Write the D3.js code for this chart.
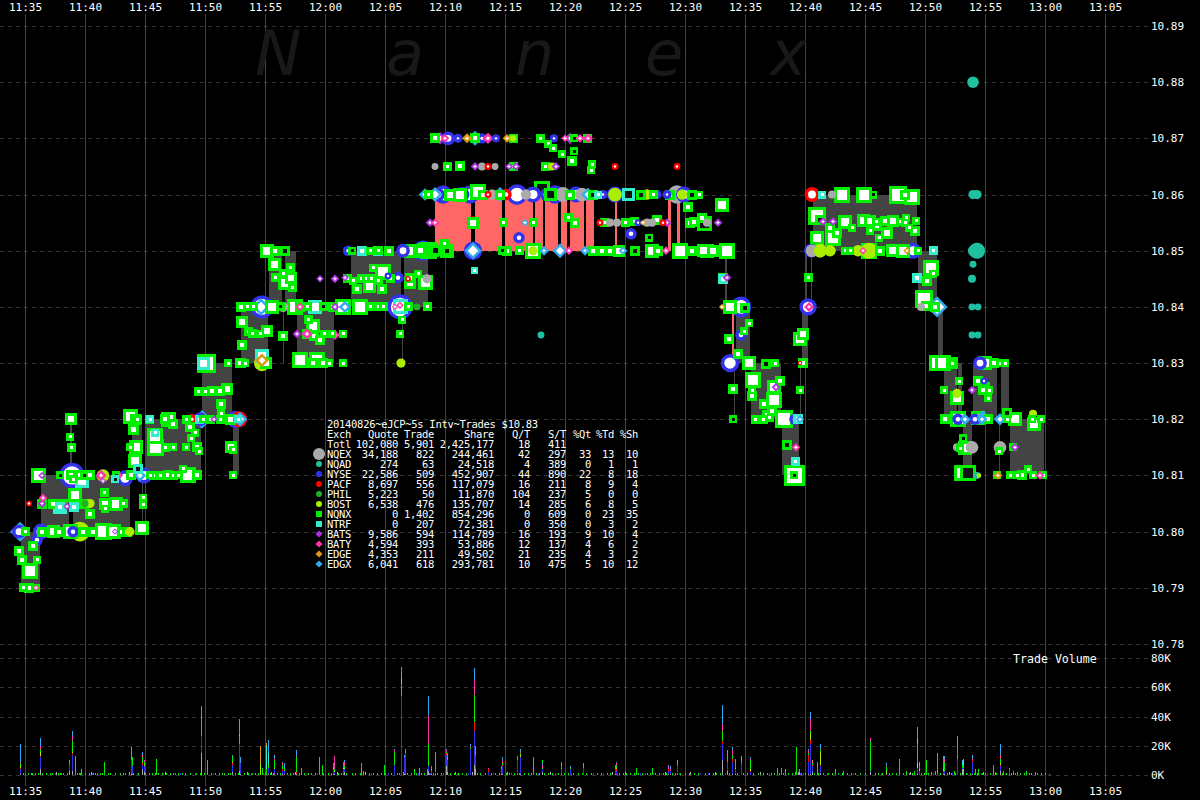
<!DOCTYPE html>
<html><head><meta charset="utf-8">
<script src="https://cdn.jsdelivr.net/npm/d3@7"></script>
<style>
html,body{margin:0;padding:0;background:#000;overflow:hidden}
svg{display:block;background:#000}
text{font-family:"DejaVu Sans Mono",monospace;fill:#fff}
.axis path.domain{display:none}
.axis line{display:none}
</style></head><body>
<svg id="c" width="1200" height="800"></svg>
<script>
// ---------- axes ----------
const timeTickBins=[0,60,120,180,240,300,360,420,480,540,600,660,720,780,840,900,960,1020,1080];
const timeTickLabels=["11:35","11:40","11:45","11:50","11:55","12:00","12:05","12:10","12:15","12:20","12:25","12:30","12:35","12:40","12:45","12:50","12:55","13:00","13:05"];
const priceTicks=[10.78,10.79,10.80,10.81,10.82,10.83,10.84,10.85,10.86,10.87,10.88,10.89];
const volumeTicks=[0,20,40,60,80];
const watermarkLetters=["N","a","n","e","x"];
const watermarkBins=[230,361,490,620,745];

// ---------- quote bands [startBin,endBin,low,high] ----------
const greyBands=[[-4,15,10.79,10.80],[16,44,10.80,10.81],[48,105,10.80,10.81],[45,47,10.81,10.82],[107,117,10.815,10.82],[117,118,10.80,10.81],[120,176,10.81,10.82],[177,207,10.82,10.83],[208,214,10.81,10.82],
[216,243,10.83,10.84],[258,259,10.83,10.84],[244,257,10.84,10.85],[260,271,10.84,10.85],[272,309,10.83,10.84],[377,378,10.83,10.84],[326,376,10.84,10.85],[379,403,10.84,10.85],
[700,702,10.84,10.85],[711,725,10.83,10.84],[709,710,10.82,10.83],[726,756,10.82,10.83],[757,774,10.81,10.82],[777,783,10.83,10.84],[775,776,10.82,10.83],
[788,892,10.85,10.86],[893,912,10.84,10.85],[913,918,10.83,10.84],[919,932,10.82,10.83],[933,937,10.82,10.83],[938,947,10.81,10.82],[948,972,10.82,10.83],[974,975,10.81,10.82],[976,984,10.82,10.83],[985,1019,10.81,10.82]];
const thinGreyBands=[[781,782,10.84,10.85],[786,787,10.84,10.85]];
const redBands=[[410,446,10.85,10.86],[450,477,10.85,10.86],[480,508,10.85,10.86],[510,518,10.85,10.86],[520,533,10.85,10.86],[536,542,10.85,10.86],[545,559,10.85,10.86],[561,569,10.85,10.86],[590,592,10.85,10.86],[643,646,10.85,10.86],[652,655,10.85,10.86],[707,709,10.83,10.84]];

// ---------- trades per exchange [bin,price,size,hollow] ----------
const nqex=[[410,10.865,6],[457,10.865,7],[470,10.865,6],[467,10.86,9],[501,10.86,9],[538,10.86,13],[557,10.86,12],[585,10.855,7],[592,10.855,7],[622,10.855,7],[627,10.855,7],[652,10.86,16],[258,10.84,9],[807,10.86,7],[787,10.85,11],[896,10.84,7],[932,10.815,7],[947,10.815,11],[975,10.815,11],[402,10.845,8],[682,10.855,7]];
const nqad=[[948,10.88,10],[948,10.86,8],[952,10.86,8],[948,10.85,9],[952,10.85,14],[948,10.8476,6],[947,10.845,7],[947,10.84,6],[953,10.84,6],[947,10.835,6],[953,10.835,6],[516,10.835,6],[952,10.81,6]];
const nyse=[[47,10.81,22],[100,10.8095,14],[16,10.80,14],[12,10.7985,10],[-6,10.80,12],[48,10.8,10],[119,10.81,14],[210,10.82,15],[175,10.82,12],[237,10.84,20],[375,10.84,22],[323,10.85,9],[378,10.85,12],[398,10.85,18],[413,10.86,12],[418,10.86,16],[445,10.86,16],[492,10.86,18],[508,10.86,14],[530,10.86,16],[578,10.86,8],[590,10.86,14],[632,10.86,8],[642,10.86,8],[659,10.86,14],[606,10.853,10],[494,10.8523,10],[448,10.85,16],[423,10.87,12],[433,10.87,8],[457,10.87,9],[471,10.87,7],[529,10.87,7],[705,10.83,16],[716,10.84,18],[716,10.835,10],[783,10.84,15],[770,10.82,10],[373,10.8452,10],[786,10.85,12],[888,10.85,14],[933,10.82,10],[955,10.83,12],[959,10.8268,6],[950,10.82,10],[363,10.8455,6],[437,10.86,13],[522,10.86,12],[551,10.86,14],[613,10.855,6]];
const pacf=[[214,10.82,14],[167,10.82,9],[448,10.855,11],[463,10.86,6],[481,10.86,10],[463,10.865,6],[590,10.865,6],[652,10.865,6],[638,10.855,6],[575,10.855,6],[787,10.86,13],[105,10.815,7],[4,10.805,5],[775,10.83,4],[383,10.845,5]];
const phil=[[60,10.805,6],[392,10.84,6]];
const bost=[[55,10.80,17],[78,10.81,11],[65,10.805,8],[105,10.80,8],[237,10.83,14],[376,10.83,8],[590,10.86,12],[657,10.86,9],[622,10.86,9],[508,10.85,8],[488,10.87,6],[527,10.865,7],[795,10.85,12],[805,10.85,10],[833,10.85,10],[844,10.85,14],[932,10.8246,8],[1008,10.821,7],[794,10.85,9],[954,10.81,4]];
const nqnx=[
// lower left
[-6,10.7966,9],[-3,10.795,9],[5,10.793,15],[8,10.7975,9],[12,10.795,7],[-2,10.79,8],[4,10.79,9],[11,10.79,7],
[0,10.80,8],[17,10.80,9],[28,10.80,12],[34,10.80,9],[45,10.80,14],[58,10.80,9],[68,10.80,9],[78,10.80,16],[88,10.80,14],[97,10.80,9],[102,10.80,9],[117,10.8007,13],
[17,10.805,9],[28,10.805,9],[38,10.805,9],[59,10.805,9],[80,10.805,11],[91,10.805,13],[98,10.805,8],[50,10.8066,13],[79,10.8069,8],[65,10.8032,9],[80,10.8041,7],[118,10.806,7],[118,10.8048,7],
[13,10.81,14],[35,10.81,7,1],[46,10.81,9],[55,10.81,9],[59,10.81,7,1],[65,10.81,9],[48,10.8093,7],[91,10.81,7,1],[106,10.81,9],[125,10.81,7],[128,10.81,8],[135,10.81,8],[143,10.81,9],[148,10.81,8],[153,10.81,7],[163,10.81,15],[172,10.81,9],
[46,10.82,11],[45,10.8169,7],[46,10.815,8],[110,10.8125,13],[158,10.8112,7],[208,10.81,7],[206,10.815,11],[208,10.8146,7],
[105,10.8205,14],[110,10.82,10],[108,10.8182,10],[112,10.82,8],[124,10.82,8,1],[130,10.8171,15],[140,10.82,9],[143,10.82,14],[148,10.8192,9],[161,10.82,8],[165,10.8187,9],[170,10.8176,7],[166,10.8166,7],[161,10.815,7],[172,10.815,9],[174,10.8143,7],
[130,10.815,16],[111,10.815,13],[105,10.815,7],[140,10.815,8],[148,10.815,7],
[178,10.82,7],[185,10.82,8],[195,10.82,8],[205,10.82,10],[196,10.8227,9],[196,10.8211,7],
[173,10.825,8],[180,10.825,8],[187,10.825,9],[195,10.825,9],[202,10.8253,11],[181,10.83,18],[216,10.83,9],[203,10.83,7],
// 11:55 - 12:10
[242,10.85,13],[250,10.85,9],[260,10.85,9,1],[249,10.8476,12],[265,10.847,8],[250,10.8452,8],[258,10.8459,8],[266,10.8452,11],[260,10.8443,13],[267,10.8434,8],
[216,10.84,9],[222,10.84,8],[228,10.84,8],[247,10.84,13],[255,10.84,8,1],[270,10.84,15],[275,10.84,9],[282,10.84,8],[298,10.84,8,1],[308,10.84,9],[318,10.84,15],[335,10.84,15],[345,10.84,8],[353,10.84,8],[358,10.84,8],[383,10.84,8],[402,10.84,8],
[217,10.8373,11],[223,10.8357,8],[227,10.8352,8],[235,10.8352,7],[242,10.8357,11],[258,10.8348,9],[217,10.8332,9],[215,10.83,9],[220,10.83,7],[241,10.83,11],
[275,10.8305,15],[288,10.83,9],[292,10.8305,15],[298,10.83,9],[304,10.83,7],[318,10.83,7],[283,10.8377,8],[288,10.8366,13],[282,10.8352,9],[289,10.8348,9],[295,10.8341,9],[299,10.8352,7],[307,10.8352,7],[318,10.8352,7],[377,10.8377,7],[375,10.8352,7],
[327,10.85,7,1],[345,10.85,7],[353,10.85,8],[364,10.85,9],[385,10.85,13],[395,10.85,10],[403,10.85,16],[410,10.85,10,1],[422,10.85,9,1],[419,10.8512,8],
[322,10.845,8],[328,10.8447,7],[336,10.845,8],[341,10.845,8],[346,10.845,8],[348,10.847,7],[358,10.8463,15],[353,10.8447,8],[365,10.845,8],[344,10.8436,12],[332,10.8432,9],[357,10.8432,9],[385,10.8452,9],[393,10.8459,7],[385,10.8443,11],[400,10.8443,14],
[395,10.85,13],[399,10.85,14],
// 10.87 / 10.865 rows
[410,10.87,9],[450,10.87,9],[488,10.87,8],[515,10.87,8],[523,10.869,7],[528,10.8682,7],[549,10.87,7,1],[562,10.87,8],
[422,10.865,8],[435,10.865,9],[488,10.865,8],[520,10.865,8],[547,10.8659,9],[567,10.8654,7],[566,10.8643,7],[537,10.8672,7],[549,10.8677,7,1],
// 10.86 row
[403,10.86,8],[425,10.86,11],[435,10.86,13],[453,10.8605,15],[458,10.86,9],[475,10.86,9],[517,10.861,15,1],[525,10.86,12,1],[545,10.86,9],[568,10.86,9,1],[616,10.86,9,1],[628,10.86,8],[645,10.86,9],[667,10.86,9,1],[674,10.86,7],
// 10.855 row
[448,10.855,11],[478,10.855,8],[508,10.855,8],[543,10.8559,8],[550,10.855,9],[579,10.855,8],[600,10.855,8],[609,10.8552,8],[632,10.8555,9],[665,10.855,9],[669,10.8552,9],[677,10.8559,9],[679,10.8548,14,1],[663,10.8577,9],[697,10.8582,13],[624,10.8523,7,1],
// 10.85 row
[395,10.85,13],[408,10.85,11,1],[422,10.85,13],[477,10.85,8,1],[482,10.85,9],[494,10.85,8],[508,10.85,15],[568,10.85,9],[577,10.85,9],[585,10.85,9],[594,10.85,11],[610,10.85,9,1],[627,10.85,13],[633,10.85,9],[655,10.85,15],[667,10.85,9],[678,10.85,12],[688,10.85,11],[702,10.85,15],
// 12:33 - 12:40
[682,10.85,13],[698,10.8452,9,1],[705,10.84,13],[720,10.8398,9,1],[724,10.8371,7],[719,10.8357,7],[704,10.8343,9],[713,10.8316,9],[724,10.83,13],[741,10.8298,9,1],[750,10.83,7],[728,10.827,15],[708,10.8253,9],[755,10.8268,9],[749,10.8257,13],[727,10.8252,7],[727,10.8241,9],[739,10.8228,9],[749,10.8234,15],[743,10.8205,11],[747,10.8214,9],[730,10.82,8],[738,10.82,8],[759,10.82,17],[708,10.82,7,1],[762,10.8155,9,1],[769,10.81,20],[769,10.81,7,1],[778,10.8352,11],[775,10.8343,13],[778,10.83,9],[775,10.8252,7],[783,10.8452,8],
// 12:40 - 12:50
[817,10.86,15],[839,10.86,15],[848,10.86,7,1],[873,10.86,17],[880,10.86,9],[887,10.8596,15],
[792,10.8562,17],[795,10.8555,9,1],[805,10.8541,9],[812,10.8532,9],[820,10.8552,13],[827,10.8541,7],[838,10.8553,12],[845,10.8553,11],[851,10.8552,7],[852,10.8544,9],[845,10.8536,7],[862,10.8532,11],[854,10.8523,7],[860,10.8553,9],[868,10.8553,11],[875,10.8552,7],[881,10.8559,7],[880,10.855,7],[884,10.8541,7],[891,10.8553,7],[890,10.8536,9],[792,10.8523,13],[808,10.8523,15],
[820,10.85,7],[825,10.85,7],[844,10.85,15,1],[855,10.85,9],[867,10.85,12],[878,10.85,13],[893,10.85,7],
[906,10.847,15],[908,10.8459,7],[902,10.8447,9],[899,10.8414,17],[901,10.8402,9],[910,10.84,9],
// 12:50 - 13:00
[912,10.83,15],[918,10.83,15],[927,10.83,11,1],[927,10.83,5],[960,10.83,13],[969,10.83,9],[975,10.83,7],[980,10.83,7],
[934,10.8268,7],[919,10.8252,7],[932,10.8237,13],[953,10.8268,9],[960,10.8257,9],[964,10.8252,7],[958,10.8252,9],[963,10.8237,7],
[920,10.82,9],[933,10.82,15],[953,10.8202,13],[963,10.82,9],[982,10.8211,9,1],[982,10.82,7],[990,10.82,13],[1009,10.8192,13],[1007,10.82,7],[1016,10.82,7],
[938,10.8166,7,1],[935,10.8148,7],[940,10.8148,13],[974,10.8143,7],[988,10.815,7],
[937,10.8104,15],[943,10.8104,15,1],[972,10.81,7],[985,10.81,7],[992,10.81,7],[997,10.81,9],[1003,10.8111,7],[1008,10.81,7],[1018,10.81,7]
];
const ntrf=[[35,10.8043,13],[49,10.8043,9],[57,10.8091,13],[90,10.8093,7,1],[113,10.8112,9,1],[178,10.83,12],[35,10.8044,9],[237,10.8312,13],[290,10.84,13],[337,10.85,9],[353,10.85,9,1],[375,10.84,14],[603,10.86,12,1],[573,10.86,7],[449,10.8465,6],[698,10.845,9],[773,10.82,9],[797,10.86,7],[908,10.85,8],[892,10.8452,9],[174,10.82,8],[213,10.82,7],[130,10.8176,7],[125,10.82,7],[770,10.8125,8]];
const bats=[[17,10.81,6],[42,10.8045,6],[189,10.82,6],[272,10.8352,7],[295,10.845,6],[310,10.845,7],[320,10.8452,6],[415,10.87,10],[450,10.865,7],[484,10.865,6],[491,10.865,7],[531,10.865,7],[405,10.855,7],[545,10.87,9],[642,10.855,7],[693,10.855,7],[702,10.8452,7],[751,10.8257,7],[798,10.8552,7],[808,10.8552,7],[947,10.8252,7],[990,10.815,7],[17,10.805,7],[90,10.8,5],[310,10.84,7],[78,10.809,5]];
const baty=[[93,10.81,8],[18,10.806,7],[76,10.81,9],[275,10.84,7],[310,10.835,8],[370,10.84,5],[420,10.87,7],[463,10.87,9],[540,10.87,6],[555,10.87,7],[563,10.87,8],[410,10.855,7],[544,10.85,7],[641,10.85,7],[784,10.84,8],[771,10.815,7],[838,10.85,6],[1015,10.81,7],[11,10.79,5],[375,10.8403,6],[282,10.8352,9]];
const edge=[[442,10.87,8],[482,10.87,7],[237,10.8305,11],[882,10.85,6],[697,10.84,5],[973,10.81,7],[618,10.855,5]];
const edgx=[[-5,10.80,16],[115,10.81,10],[215,10.82,12],[236,10.84,14],[320,10.84,10],[400,10.86,10],[410,10.86,12],[450,10.87,12],[475,10.86,12],[563,10.86,11],[500,10.855,6],[448,10.85,14],[519,10.85,8],[535,10.85,12],[560,10.85,8],[912,10.84,17],[775,10.82,7],[975,10.82,10],[957,10.82,9],[958,10.8205,10],[940,10.82,9],[598,10.85,7],[177,10.82,15]];

// ---------- volume in thousands per 5s bin ----------
const volumeKeys=["NQEX","NYSE","PACF","BOST","NQNX","NTRF","BATY","EDGE","EDGX"];
const volumeRows=[
[-5,1,3,1,1,2,0,1,0,12],[15,4,8,1,3,2,0,2,0,5],[44,3,3,1,0,0,0,1,0,2],[47,3,11,1,1,7,0,4,0,3],[106,1,9,0,0,4,0,0,0,5],[107,1,5,0,0,6,0,0,0,0],
[117,4,3,1,1,3,0,2,0,2],[119,2,4,0,1,2,0,1,0,0],[176,15,11,1,0,11,0,1,0,8],[207,2,5,1,1,4,0,0,0,1],[214,3,12,6,0,6,1,2,0,8],[215,1,7,0,0,0,0,0,0,4],
[235,0,0,0,8,0,0,0,12,0],[241,0,0,0,0,4,16,0,2,0],[243,1,4,0,0,2,8,0,0,9],[249,1,3,0,1,5,0,1,0,3],[257,1,2,1,0,3,0,1,0,1],[259,1,2,0,0,2,0,0,0,3],[271,1,0,1,0,10,0,1,0,4],
[308,1,3,0,1,1,0,1,0,1],[309,1,1,0,1,1,0,9,0,0],[318,1,3,0,1,0,0,3,0,1],[319,2,2,0,1,1,0,3,0,1],[369,0,7,0,0,9,0,1,0,1],
[376,0,54,0,0,8,4,0,0,8],[379,1,11,0,0,0,0,0,0,2],[380,1,13,1,0,1,0,0,0,2],[403,3,3,0,0,15,0,20,0,13],[406,1,2,0,0,0,0,0,0,3],[410,1,2,0,0,0,0,0,0,13],
[421,6,8,1,0,1,0,1,0,1],[422,2,8,0,0,2,0,2,0,1],[445,0,18,0,0,1,0,1,0,1],[449,7,23,6,0,19,0,10,0,8],[450,4,5,5,0,0,0,0,0,6],[463,0,2,2,0,0,0,1,0,0],[476,1,2,1,0,0,0,1,0,1],[477,1,5,1,0,1,0,2,0,2],[480,0,3,5,0,1,0,0,0,0],[492,1,9,0,0,2,0,1,0,0],[495,1,11,0,2,1,0,1,0,2],
[517,2,2,0,0,1,0,2,0,1],[536,1,3,0,0,1,0,1,0,3],[545,0,4,0,0,1,0,0,0,1],[558,0,5,0,0,0,0,0,0,3],[590,1,2,1,0,0,0,0,0,3],[591,0,3,1,1,2,0,1,0,1],
[643,1,2,1,0,0,0,2,0,1],[645,1,2,0,0,0,0,1,0,2],[652,1,4,1,0,0,0,1,0,3],[697,10,11,2,0,7,0,5,0,13],[702,3,5,1,0,6,0,1,0,1],[707,1,8,2,0,3,0,3,0,2],[710,1,3,0,1,0,0,2,0,4],[716,0,7,1,0,1,0,1,1,2],[725,0,2,1,1,6,0,1,0,1],[756,0,0,0,0,0,0,2,0,3],[774,1,0,0,0,0,0,0,1,2],
[771,0,0,0,0,19,0,0,0,0],[783,1,8,5,0,1,0,2,0,1],[785,1,20,3,5,1,0,8,0,5],[787,2,4,1,0,1,0,1,1,0],[795,1,5,1,9,1,0,1,0,3],[845,2,1,0,0,20,0,2,0,0],[861,1,0,0,2,3,0,1,0,1],[892,1,3,1,3,13,4,2,0,6],[894,0,2,1,1,1,0,1,2,1],
[912,0,1,0,0,1,1,0,0,12],[918,1,1,1,1,4,0,3,0,2],[919,1,2,0,0,6,0,2,0,2],[932,0,10,1,0,2,0,5,0,9],[937,4,1,0,0,2,2,0,0,1],[938,4,1,0,0,2,3,0,0,1],[947,1,8,1,0,0,0,1,0,3],[975,3,3,1,1,3,0,3,0,7],[984,1,2,0,0,0,0,1,0,1]];
const midNqnx=[[50,13],[56,4],[79,2],[79,9],[106,3],[131,11],[182,10],[215,3],[237,5],[276,5],[294,12],[297,7],[336,8],[359,7],[338,3],[378,2],[389,4],[394,5],[402,4],[406,3],[508,12],[517,10],[627,5],[611,5],[752,5],[760,4],[770,2],[787,8],[792,9],[810,4],[818,3],[874,11],[881,3],[889,3],[901,10],[906,2],[910,3],[929,3],[950,4],[953,4],[968,7],[970,2],[978,3],[988,3],[992,2],[1001,3],[1010,2],[1024,1]];
const lowNqnx=[-2,0,3,6,7,10,13,15,17,21,25,27,33,35,36,38,42,44,52,54,55,60,64,68,70,72,75,77,83,85,90,95,98,100,108,113,120,124,127,130,133,137,141,145,148,150,153,157,160,165,171,175,179,186,190,194,197,199,203,205,210,213,219,223,227,230,233,240,245,248,252,255,262,265,268,274,279,283,286,290,298,303,306,313,316,321,327,330,335,340,344,348,352,356,360,366,372,374,382,386,391,396,399,404,408,412,416,425,429,433,437,441,452,455,460,466,470,474,481,484,489,494,499,503,506,511,514,519,523,527,533,539,543,548,553,557,561,566,572,576,582,585,594,598,601,605,609,613,617,622,625,630,634,638,641,647,650,655,660,664,669,673,680,684,688,691,695,700,704,712,718,722,728,733,738,742,746,749,754,758,763,767,776,780,789,793,798,803,807,813,817,822,826,830,835,840,850,853,857,864,867,871,878,884,887,896,899,903,908,915,922,926,930,935,941,945,949,952,957,960,965,971,977,981,986,990,995,999,1004,1006,1012,1016,1020];
const lowNyse=[30,67,112,138,155,170,188,226,238,292,300,346,363,393,405,418,432,443,468,486,513,530,546,568,578,592,615,620,628,636,654,675,683,700,744,775,778,802,828,856,908,927,942,956,962,980];
const lowNqex=[31,66,104,140,222,246,270,312,340,430,447,482,525,545,587,600,640,665,690,735,773,861,885,924,958];

// ---------- summary table ----------
const tableTitle="20140826~eJCP~5s Intv~Trades $10.83";
const tableHeader=["Exch","Quote","Trade","Share","Q/T","S/T","%Qt","%Td","%Sh"];
const exchNames=["Totl","NQEX","NQAD","NYSE","PACF","PHIL","BOST","NQNX","NTRF","BATS","BATY","EDGE","EDGX"];
const colQuote=["102,080","34,188","274","22,586","8,697","5,223","6,538","0","0","9,586","4,594","4,353","6,041"];
const colTrade=["5,901","822","63","509","556","50","476","1,402","207","594","393","211","618"];
const colShare=["2,425,177","244,461","24,518","452,907","117,079","11,870","135,707","854,296","72,381","114,789","53,886","49,502","293,781"];
const colQT=["18","42","4","44","16","104","14","0","0","16","12","21","10"];
const colST=["411","297","389","890","211","237","285","609","350","193","137","235","475"];
const colPQ=["","33","0","22","8","5","6","0","0","9","4","4","5"];
const colPT=["","13","1","8","9","0","8","23","3","10","6","3","10"];
const colPS=["","10","1","18","4","0","5","35","2","4","2","2","12"];

// ---------- styles ----------
const exchColor={NQEX:"#aaaaaa",NQAD:"#1fc0a0",NYSE:"#3333ee",PACF:"#ff0000",PHIL:"#20b020",BOST:"#aaee00",NQNX:"#00f000",NTRF:"#33eecc",BATS:"#aa33dd",BATY:"#ff33aa",EDGE:"#dd9911",EDGX:"#33aaee"};
const exchShape={NQEX:"c",NQAD:"c",NYSE:"c",PACF:"c",PHIL:"c",BOST:"c",NQNX:"s",NTRF:"s",BATS:"d",BATY:"d",EDGE:"d",EDGX:"d"};
const solid=new Set(["NQEX","NQAD","BOST","PHIL"]);

const svg=d3.select("#c");
const x=d3.scaleLinear().domain([0,1080]).range([25,1105]);
const yP=d3.scaleLinear().domain([10.78,10.89]).range([644,26]);
const yV=d3.scaleLinear().domain([0,80]).range([775,658]);

// horizontal dashed grid
const gridG=svg.append("g");
gridG.selectAll("line.p").data(priceTicks).join("line").attr("class","p")
 .attr("x1",0).attr("x2",1148).attr("y1",d=>Math.round(yP(d))+.5).attr("y2",d=>Math.round(yP(d))+.5)
 .attr("stroke","#333").attr("stroke-dasharray","4,4");
gridG.selectAll("line.v").data(volumeTicks).join("line").attr("class","v")
 .attr("x1",0).attr("x2",1148).attr("y1",d=>Math.round(yV(d))+.5).attr("y2",d=>Math.round(yV(d))+.5)
 .attr("stroke","#333").attr("stroke-dasharray","4,4");

// watermark
svg.append("g").selectAll("text").data(watermarkLetters).join("text")
 .text(d=>d).attr("x",(d,i)=>x(watermarkBins[i])).attr("y",75)
 .attr("font-size",62).attr("font-style","italic")
 .style("font-family","'DejaVu Sans',sans-serif").style("fill","#181818");

// vertical grid
gridG.selectAll("line.t").data(timeTickBins).join("line").attr("class","t")
 .attr("x1",d=>x(d)+.5).attr("x2",d=>x(d)+.5).attr("y1",14).attr("y2",786)
 .attr("stroke","#444");

// bands
function bands(list,color){
 svg.append("g").selectAll("rect").data(list).join("rect")
  .attr("x",d=>x(d[0])).attr("width",d=>x(d[1])-x(d[0]))
  .attr("y",d=>yP(d[3])).attr("height",d=>yP(d[2])-yP(d[3]))
  .attr("fill",color).attr("shape-rendering","crispEdges");
}
bands(greyBands,"#444");bands(thinGreyBands,"#444");bands(redBands,"#ff6666");

// marks
const exchData={NQEX:nqex,NQAD:nqad,NYSE:nyse,PACF:pacf,PHIL:phil,BOST:bost,NQNX:nqnx,NTRF:ntrf,BATS:bats,BATY:baty,EDGE:edge,EDGX:edgx};
const marks=[];
Object.keys(exchData).forEach(k=>exchData[k].forEach(d=>marks.push({ex:k,bin:d[0],price:d[1],size:d[2],hollow:!!d[3]})));
marks.sort((a,b)=>d3.descending(a.size,b.size));

function drawMark(g,ex,size,hollow){
 const col=exchColor[ex],shape=exchShape[ex];
 if(shape==="s"){
  const w=Math.round(size)+1;
  g.append("rect").attr("x",-w/2).attr("y",-w/2).attr("width",w).attr("height",w).attr("fill",col).attr("shape-rendering","crispEdges");
  const inner=Math.max(3,w-6);
  g.append("rect").attr("x",-inner/2).attr("y",-inner/2).attr("width",inner).attr("height",inner)
   .attr("fill",hollow?"#111":"#fff").attr("shape-rendering","crispEdges");
 } else if(shape==="c"){
  const s=size*1.15;
  g.append("circle").attr("r",s/2).attr("fill",col);
  if(!solid.has(ex)) g.append("circle").attr("r",Math.max(1.2,(s-7)/2)).attr("fill","#fff");
 } else {
  const s=size*1.25;
  g.append("path").attr("d",d3.symbol(d3.symbolSquare,s*s/2)()).attr("transform","rotate(45)").attr("fill",col);
  if(s>=11) g.append("path").attr("d",d3.symbol(d3.symbolSquare,(s-7)*(s-7)/2)()).attr("transform","rotate(45)").attr("fill","#fff");
  else g.append("path").attr("d",d3.symbol(d3.symbolCross,6)()).attr("fill","#fff");
 }
}
const markG=svg.append("g");
marks.forEach(m=>{
 const g=markG.append("g").attr("transform",`translate(${x(m.bin)},${yP(m.price)})`);
 drawMark(g,m.ex,m.size,m.hollow);
});

// volume: stacked bars
const stack=d3.stack().keys(volumeKeys.map((k,i)=>i+1)).value((r,k)=>r[k]);
const stacked=stack(volumeRows);
const keyColor=volumeKeys.map(k=>exchColor[k]);
const volG=svg.append("g").attr("shape-rendering","crispEdges");
function volBars(list,color){
 volG.append("g").selectAll("rect").data(list).join("rect")
  .attr("x",d=>x(d[0])).attr("width",1).attr("y",d=>yV(d[1])).attr("height",d=>Math.max(1,yV(0)-yV(d[1])))
  .attr("fill",color);
}
volBars(lowNqnx.map(b=>[b,1.4]),exchColor.NQNX);
volBars(lowNyse.map(b=>[b,1.4]),exchColor.NYSE);
volBars(lowNqex.map(b=>[b,2]),exchColor.NQEX);
volBars(midNqnx,exchColor.NQNX);
stacked.forEach((layer,i)=>{
 volG.append("g").selectAll("rect").data(layer).join("rect")
  .attr("x",d=>x(d.data[0])).attr("width",1)
  .attr("y",d=>yV(d[1])).attr("height",d=>yV(d[0])-yV(d[1]))
  .attr("fill",keyColor[i]);
});

// axes
const timeFmt=d=>timeTickLabels[timeTickBins.indexOf(d)];
svg.append("g").attr("class","axis").attr("transform","translate(0,785)")
 .call(d3.axisBottom(x).tickValues(timeTickBins).tickFormat(timeFmt).tickSize(0).tickPadding(2));
svg.append("g").attr("class","axis").attr("transform","translate(0,11)")
 .call(d3.axisTop(x).tickValues(timeTickBins).tickFormat(timeFmt).tickSize(0).tickPadding(0));
svg.append("g").attr("class","axis").attr("transform","translate(1151,0)")
 .call(d3.axisRight(yP).tickValues(priceTicks).tickFormat(d3.format(".2f")).tickSize(0).tickPadding(0));
svg.append("g").attr("class","axis").attr("transform","translate(1151,0)")
 .call(d3.axisRight(yV).tickValues(volumeTicks).tickFormat(d=>d+"K").tickSize(0).tickPadding(0));
svg.selectAll(".axis text").attr("font-size",11).style("font-family","'DejaVu Sans Mono',monospace").style("fill","#fff");
svg.append("text").text("Trade Volume").attr("x",1013).attr("y",663).attr("font-size",11.6);

// table
const tbl=svg.append("g").attr("font-size",10.5).attr("letter-spacing","-0.3");
const rowY=i=>448+i*10;
tbl.append("text").text(tableTitle).attr("x",327).attr("y",428);
const colX=[327,398,434,494,530,566,591,614,638];
tableHeader.forEach((h,i)=>tbl.append("text").text(h).attr("x",colX[i]).attr("y",438).attr("text-anchor",i?"end":"start"));
const cols=[exchNames,colQuote,colTrade,colShare,colQT,colST,colPQ,colPT,colPS];
cols.forEach((c,ci)=>c.forEach((v,ri)=>tbl.append("text").text(v).attr("x",colX[ci]).attr("y",rowY(ri)).attr("text-anchor",ci?"end":"start")));
exchNames.slice(1).forEach((e,i)=>{
 const g=tbl.append("g").attr("transform",`translate(319,${rowY(i+1)-4})`);
 const col=exchColor[e],sh=exchShape[e],s=e==="NQEX"?12:6;
 if(sh==="s") g.append("rect").attr("x",-s/2).attr("y",-s/2).attr("width",s).attr("height",s).attr("fill",col);
 else if(sh==="c") g.append("circle").attr("r",s/2).attr("fill",col);
 else g.append("path").attr("d",d3.symbol(d3.symbolSquare,s*s/1.4)()).attr("transform","rotate(45)").attr("fill",col);
});
</script></body></html>
